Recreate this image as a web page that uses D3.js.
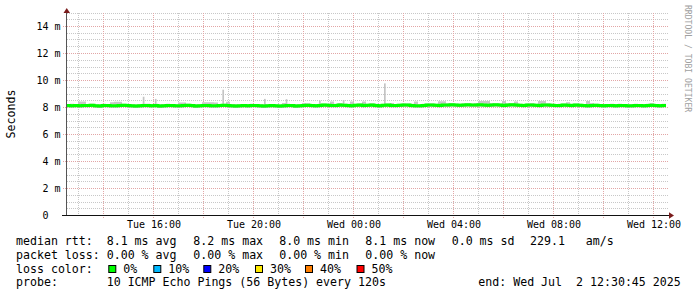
<!DOCTYPE html>
<html><head><meta charset="utf-8">
<script src="https://cdn.jsdelivr.net/npm/d3@7"></script>
<style>
html,body{margin:0;padding:0;background:#fff;}
svg{display:block;}
text{white-space:pre;}
</style></head>
<body>
<svg id="chart" width="697" height="297"></svg>
<script>
// ---- data (ms) ----
const startTime = "2025-07-01T12:30:45Z";
const endTime = "2025-07-02T12:30:45Z";
const median = [
8.12,8.10,8.11,8.09,8.12,8.11,8.13,8.10,8.08,8.12,8.11,8.10,8.09,8.12,8.13,8.11,8.10,8.07,8.09,8.11,8.12,8.10,8.11,8.08,8.10,
8.12,8.11,8.09,8.10,8.12,8.13,8.11,8.08,8.10,8.11,8.12,8.10,8.09,8.11,8.13,8.12,8.10,8.08,8.09,8.11,8.10,8.12,8.11,8.09,8.08,
8.10,8.11,8.09,8.07,8.10,8.12,8.11,8.08,8.10,8.12,8.13,8.11,8.10,8.12,8.14,8.13,8.11,8.12,8.14,8.13,8.12,8.10,8.13,8.14,8.12,
8.13,8.15,8.12,8.10,8.13,8.14,8.12,8.11,8.13,8.15,8.14,8.12,8.10,8.09,8.12,8.14,8.15,8.13,8.12,8.14,8.15,8.16,8.14,8.13,8.15,
8.16,8.14,8.15,8.17,8.15,8.13,8.15,8.16,8.14,8.12,8.15,8.16,8.15,8.13,8.11,8.14,8.15,8.13,8.12,8.14,8.15,8.13,8.11,8.12,8.14,
8.13,8.12,8.14,8.13,8.11,8.10,8.12,8.13,8.11,8.09,8.11,8.12,8.10,8.12,8.11,8.09,8.10,8.12,8.11,8.10,8.12,8.13,8.11,8.10,8.12];
const smokeHi = [
8.22,8.24,8.23,8.40,8.40,8.22,8.25,8.21,8.20,8.24,8.23,8.35,8.38,8.38,8.25,8.22,8.21,8.19,8.22,8.24,8.25,8.22,8.24,8.20,8.22,
8.24,8.23,8.21,8.33,8.33,8.25,8.23,8.20,8.22,8.35,8.36,8.35,8.34,8.22,8.25,8.38,8.22,8.20,8.21,8.23,8.22,8.24,8.23,8.21,8.20,
8.22,8.23,8.21,8.19,8.30,8.24,8.23,8.20,8.22,8.30,8.28,8.23,8.22,8.24,8.26,8.25,8.40,8.24,8.30,8.25,8.24,8.40,8.25,8.26,8.40,
8.25,8.27,8.24,8.22,8.25,8.26,8.30,8.23,8.25,8.27,8.26,8.24,8.40,8.21,8.24,8.26,8.27,8.25,8.42,8.42,8.27,8.30,8.26,8.25,8.27,
8.28,8.26,8.30,8.45,8.45,8.45,8.30,8.28,8.26,8.45,8.27,8.28,8.40,8.25,8.23,8.26,8.30,8.25,8.45,8.45,8.27,8.25,8.23,8.24,8.26,
8.35,8.24,8.26,8.25,8.23,8.45,8.30,8.25,8.23,8.21,8.23,8.24,8.22,8.24,8.23,8.21,8.22,8.24,8.23,8.22,8.24,8.30,8.23,8.22,8.24];
const smokeLo = [
7.98,7.97,7.99,7.96,7.99,7.98,8.00,7.97,7.95,7.99,7.98,7.97,7.96,7.99,8.00,7.98,7.97,7.94,7.96,7.98,7.99,7.97,7.98,7.95,7.97,
7.99,7.98,7.96,7.97,7.99,8.00,7.98,7.95,7.97,7.98,7.99,7.97,7.96,7.98,8.00,7.99,7.97,7.95,7.96,7.98,7.97,7.99,7.98,7.96,7.95,
7.97,7.98,7.96,7.94,7.97,7.99,7.98,7.95,7.97,7.99,8.00,7.98,7.97,7.99,8.01,8.00,7.98,7.99,8.01,8.00,7.99,7.97,8.00,8.01,7.99,
8.00,8.02,7.99,7.97,8.00,8.01,7.99,7.98,8.00,8.02,8.01,7.99,7.97,7.96,7.99,8.01,8.02,8.00,7.99,8.01,8.02,8.03,8.01,8.00,8.02,
8.03,8.01,8.02,8.04,8.02,8.00,8.02,8.03,8.01,7.99,8.02,8.03,8.02,8.00,7.98,8.01,8.02,8.00,7.99,8.01,8.02,8.00,7.98,7.99,8.01,
8.00,7.99,8.01,8.00,7.98,7.97,7.99,8.00,7.98,7.96,7.98,7.99,7.97,7.99,7.98,7.96,7.97,7.99,7.98,7.97,7.99,8.00,7.98,7.97,7.99];
const spikeTimes = ["2025-07-01T15:35:00Z","2025-07-01T16:04:00Z","2025-07-01T18:46:00Z","2025-07-01T20:26:00Z",
  "2025-07-01T21:18:00Z","2025-07-01T22:38:00Z","2025-07-01T23:35:00Z","2025-07-02T01:14:00Z"];
const spikeValues = [8.76, 8.60, 9.28, 8.60, 8.58, 8.48, 8.52, 9.75];
const yMajorTicks = [0, 2, 4, 6, 8, 10, 12, 14];
const legendRows = ["median rtt:", "packet loss:", "loss color:", "probe:"];
const rttStats = ["8.1 ms avg", "8.2 ms max", "8.0 ms min", "8.1 ms now", "0.0 ms sd", "229.1   am/s"];
const lossStats = ["0.00 % avg", "0.00 % max", "0.00 % min", "0.00 % now"];
const lossLabels = ["0%", "10%", "20%", "30%", "40%", "50%"];
const lossColors = ["#00ff00", "#00b8ff", "#0000ff", "#ffea00", "#ff7f00", "#ff0000"];
const probeText = "10 ICMP Echo Pings (56 Bytes) every 120s";
const endText = "end: Wed Jul  2 12:30:45 2025";
const unitLabel = "Seconds";
const watermark = "RRDTOOL / TOBI OETIKER";

// ---- layout ----
const svg = d3.select("#chart");
const t0 = new Date(startTime), t1 = new Date(endTime);
const stepMs = (t1 - t0) / median.length;
const times = median.map((_, i) => new Date(+t0 + i * stepMs));
const x = d3.scaleUtc().domain([t0, t1]).range([66, 666]);
const y = d3.scaleLinear().domain([0, 15]).range([215, 12.5]);
const mono = "'DejaVu Sans Mono', monospace";

// grid
const gMinor = svg.append("g").attr("stroke", "#c8c8c8").attr("stroke-dasharray", "1,1").attr("stroke-width", 1);
d3.range(1, 31).map(d => d / 2).filter(v => v % 2 !== 0).forEach(v => {
  const yy = Math.round(y(v)) + 0.5;
  gMinor.append("line").attr("x1", 67).attr("x2", 668).attr("y1", yy).attr("y2", yy);
});
d3.utcHour.range(t0, t1).filter(d => d.getUTCHours() % 2 === 1).forEach(d => {
  const xx = Math.round(x(d)) + 0.5;
  gMinor.append("line").attr("x1", xx).attr("x2", xx).attr("y1", 13).attr("y2", 215);
});
const gMajor = svg.append("g").attr("stroke", "#e2a6a6").attr("stroke-dasharray", "1,1").attr("stroke-width", 1);
yMajorTicks.filter(v => v > 0).forEach(v => {
  const yy = Math.round(y(v)) + 0.5;
  gMajor.append("line").attr("x1", 63).attr("x2", 668).attr("y1", yy).attr("y2", yy);
});
d3.utcHour.range(t0, t1).filter(d => d.getUTCHours() % 2 === 0).forEach(d => {
  const xx = Math.round(x(d)) + 0.5;
  gMajor.append("line").attr("x1", xx).attr("x2", xx).attr("y1", 13).attr("y2", 218);
});

// smoke
const tx = times.concat([t1]);
const ext = a => a.concat([a[a.length - 1]]);
const medE = ext(median), hiE = ext(smokeHi), loE = ext(smokeLo);
const idx = d3.range(tx.length);
svg.append("path").datum(idx)
  .attr("d", d3.area().curve(d3.curveStepAfter).x(i => x(tx[i])).y0(i => y(medE[i])).y1(i => y(hiE[i])))
  .attr("fill", "#c8c8c8");
svg.append("path").datum(idx)
  .attr("d", d3.area().curve(d3.curveStepAfter).x(i => x(tx[i])).y0(i => y(loE[i])).y1(i => y(medE[i])))
  .attr("fill", "#a8a8a8");
spikeTimes.forEach((s, i) => {
  const ts = new Date(s);
  const w = x(new Date(+ts + 4 * 60000)) - x(ts);
  svg.append("rect").attr("x", x(ts)).attr("width", w)
    .attr("y", y(spikeValues[i])).attr("height", y(8.1) - y(spikeValues[i]))
    .attr("fill", "#c4c4c4");
});
// median line
svg.append("path").datum(idx)
  .attr("d", d3.line().curve(d3.curveStepAfter).x(i => x(tx[i])).y(i => y(medE[i])))
  .attr("fill", "none").attr("stroke", lossColors[0]).attr("stroke-width", 3);

// axes
svg.append("line").attr("x1", 66.5).attr("x2", 66.5).attr("y1", 215).attr("y2", 12).attr("stroke", "#555");
svg.append("line").attr("x1", 62).attr("x2", 669).attr("y1", 215.5).attr("y2", 215.5).attr("stroke", "#111").attr("stroke-width", 1.2);
svg.append("path").attr("d", "M63.5,13L70,13L66.75,8Z").attr("fill", "#7a1c1c");
svg.append("path").attr("d", "M669,212.2L669,218.8L674,215.5Z").attr("fill", "#7a1c1c");

// y labels
svg.append("g").selectAll("text").data(yMajorTicks).join("text")
  .attr("x", 60.5).attr("y", d => y(d) + 3.8)
  .attr("text-anchor", "end").attr("font-family", mono).attr("font-size", 10).attr("fill", "#000")
  .text(d => d === 0 ? "0  " : d + " m");
// x labels
const fmt = d3.utcFormat("%a %H:%M");
svg.append("g").selectAll("text").data(d3.utcHour.every(4).range(t0, t1)).join("text")
  .attr("x", d => x(d) + 0.8).attr("y", 227.5)
  .attr("text-anchor", "middle").attr("font-family", mono).attr("font-size", 10).attr("fill", "#000")
  .text(d => fmt(d));

// unit label
svg.append("text").attr("transform", "translate(14.5,114) rotate(-90)")
  .attr("text-anchor", "middle").attr("font-family", mono).attr("font-size", 11.6).text(unitLabel);
// watermark
svg.append("text").attr("transform", "translate(685,5) rotate(90)")
  .attr("text-anchor", "start").attr("font-family", mono).attr("font-size", 8.1).attr("fill", "#a0a0a0").text(watermark);

// legend
const lf = 11.6;
const rowY = [245.3, 258.9, 272.6, 286.2];
const lg = svg.append("g").attr("font-family", mono).attr("font-size", lf).attr("fill", "#000");
legendRows.forEach((t, i) => lg.append("text").attr("x", 16).attr("y", rowY[i]).text(t));
const statX = [106.7, 193.3, 279.2, 365.3, 451.7, 530];
rttStats.forEach((t, i) => lg.append("text").attr("x", statX[i]).attr("y", rowY[0]).text(t));
lossStats.forEach((t, i) => lg.append("text").attr("x", statX[i]).attr("y", rowY[1]).text(t));
const boxX = [108.3, 153.3, 203.3, 255, 305, 356.5];
lossLabels.forEach((t, i) => {
  lg.append("rect").attr("x", boxX[i] + 0.5).attr("y", 265.5).attr("width", 7).attr("height", 7)
    .attr("fill", lossColors[i]).attr("stroke", "#000").attr("stroke-width", 1);
  lg.append("text").attr("x", boxX[i] + 15).attr("y", rowY[2]).text(t);
});
lg.append("text").attr("x", 106.7).attr("y", rowY[3]).text(probeText);
lg.append("text").attr("x", 478.3).attr("y", rowY[3]).text(endText);
</script>
</body></html>
